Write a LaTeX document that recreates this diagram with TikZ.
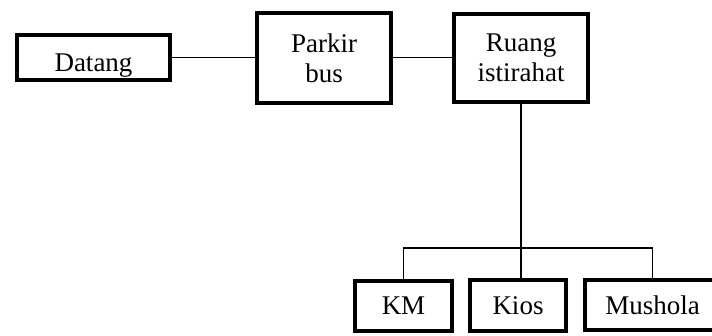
\documentclass[tikz,border=0pt]{standalone}
\usepackage{fontspec}
\setmainfont{Liberation Serif}
\begin{document}
\begin{tikzpicture}[x=1pt,y=-1pt,
  box/.style={draw=black, line width=4pt, fill=white, inner sep=0pt,
    align=center, font=\fontsize{27}{30}\selectfont},
  link/.style={draw=black, line width=1.3pt}]
\useasboundingbox (0,0) rectangle (712,336);
\begin{scope}
\clip (0,0) rectangle (712,336);
% top row
\node[box, minimum width=153pt, minimum height=45pt, text height=29pt, text depth=0pt] (datang) at (93.5,57.5) {Datang};
\node[box, minimum width=134pt, minimum height=90pt] (parkir) at (324,58) {Parkir\\bus};
\node[box, minimum width=134pt, minimum height=88pt] (ruang) at (521,58) {Ruang\\istirahat};
% bottom row
\node[box, minimum width=97pt, minimum height=50pt] (km) at (403.5,306) {KM};
\node[box, minimum width=96pt, minimum height=51pt] (kios) at (518,305.5) {Kios};
\node[box, minimum width=135pt, minimum height=50pt] (mushola) at (652.5,305) {Mushola};
% connectors
\draw[link] (datang.east) -- (datang.east -| parkir.west);
\draw[link] (parkir.east |- datang.east) -- (ruang.west |- datang.east);
\coordinate (bus) at (521,248);
\draw[link] (ruang.south) -- (bus) -- (bus |- kios.north);
\draw[link] (km.north) |- (bus) -| (mushola.north);
\end{scope}
\end{tikzpicture}
\end{document}
